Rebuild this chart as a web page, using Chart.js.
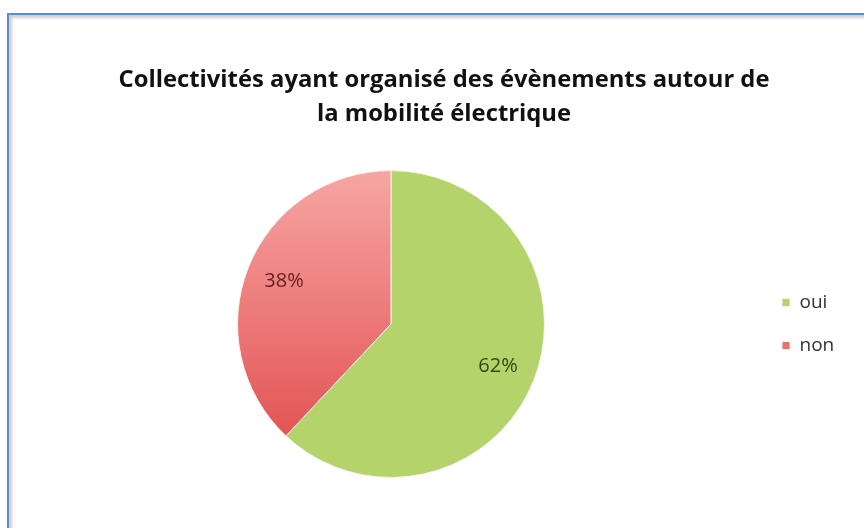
<!DOCTYPE html>
<html lang="fr">
<head>
<meta charset="utf-8">
<title>Collectivités ayant organisé des évènements autour de la mobilité électrique</title>
<script src="https://cdn.jsdelivr.net/npm/chart.js@4.4.1/dist/chart.umd.min.js"></script>
<style>
    html, body { margin: 0; padding: 0; background: #ffffff; overflow: hidden; }
    body { width: 864px; height: 528px; position: relative; }
    .frame {
        position: absolute; left: 7px; top: 13px; width: 900px; height: 600px;
        border-top: 2px solid #5b8bd9; border-left: 2px solid #5b8bd9;
        box-shadow: inset 3px 3px 3px rgba(120, 120, 120, 0.35);
    }
    .chart-box { position: absolute; left: 10px; top: 16px; width: 854px; height: 512px; }
</style>
</head>
<body>
<div class="frame"></div>
<div class="chart-box"><canvas id="events-chart"></canvas></div>
<script>
const titleLines = ['Collectivités ayant organisé des évènements autour de', 'la mobilité électrique'];
const categories = ['oui', 'non'];
const shares = [62, 38];

const green = '#b4d36b';

function sliceFill(context) {
    if (context.dataIndex === 0) {
        return green;
    }
    const area = context.chart.chartArea;
    if (! area) {
        return '#ea7b7b';
    }
    const g = context.chart.ctx.createLinearGradient(0, area.top, 0, area.bottom);
    g.addColorStop(0, '#f6a6a4');
    g.addColorStop(1, '#e04848');
    return g;
}

// the legend column is wider in the original than Chart.js makes it
const legendWidth = {
    id: 'legendWidth',
    beforeInit(chart) {
        const fit = chart.legend.fit;
        chart.legend.fit = function () {
            fit.call(this);
            this.width = 106;
        };
    },
};

const pieLabels = {
    id: 'pieLabels',
    afterDatasetsDraw(chart) {
        const { ctx } = chart;
        const meta = chart.getDatasetMeta(0);
        const inkColors = ['#2f4a10', '#651d1d'];

        ctx.save();
        ctx.font = "20px 'Open Sans', sans-serif";
        ctx.textAlign = 'center';
        ctx.textBaseline = 'middle';
        meta.data.forEach((arc, i) => {
            const p = arc.getProps(['x', 'y', 'startAngle', 'endAngle', 'outerRadius'], true);
            const mid = (p.startAngle + p.endAngle) / 2;
            const r = p.outerRadius * 0.75;
            ctx.fillStyle = inkColors[i];
            ctx.fillText(shares[i] + '%', p.x + Math.cos(mid) * r, p.y + Math.sin(mid) * r);
        });
        ctx.restore();
    },
};

new Chart(document.getElementById('events-chart'), {
    type: 'pie',
    data: {
        labels: categories,
        datasets: [{
            data: shares,
            backgroundColor: sliceFill,
            borderColor: '#f4f4f0',
            borderWidth: 1,
        }],
    },
    options: {
        responsive: true,
        maintainAspectRatio: false,
        animation: false,
        layout: { padding: { left: 14, right: 0, top: 0, bottom: 50 } },
        plugins: {
            title: {
                display: true,
                text: titleLines,
                color: '#111111',
                font: { family: "'Open Sans', sans-serif", size: 23.8, weight: 'bold', lineHeight: 1.43 },
                padding: { top: 47, bottom: 39 },
            },
            legend: {
                position: 'right',
                fullSize: false,
                labels: {
                    boxWidth: 8,
                    boxHeight: 8,
                    padding: 24,
                    color: '#333333',
                    font: { family: "'Open Sans', sans-serif", size: 19 },
                },
            },
            tooltip: { enabled: false },
        },
    },
    plugins: [legendWidth, pieLabels],
});
</script>
</body>
</html>
